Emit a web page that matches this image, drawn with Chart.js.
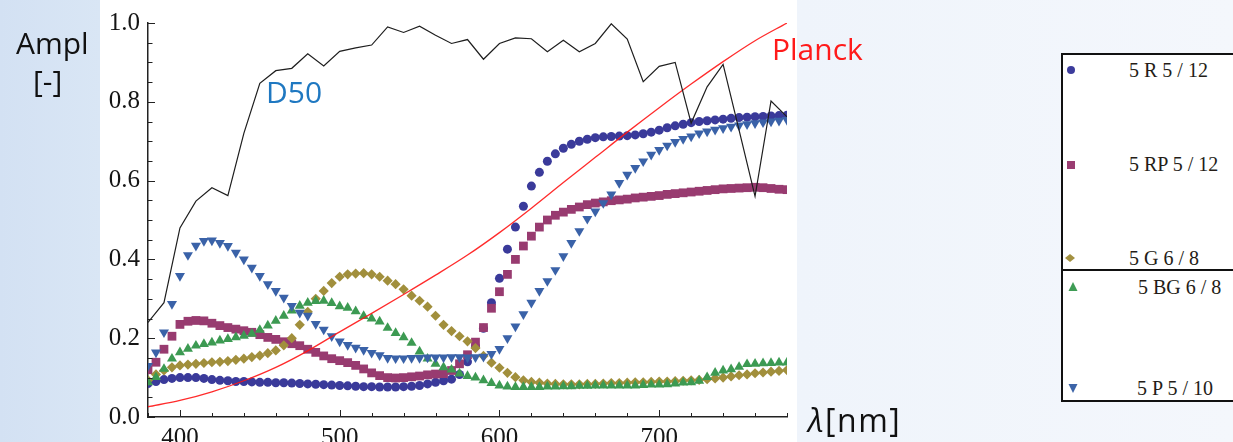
<!DOCTYPE html>
<html>
<head>
<meta charset="utf-8">
<script src="https://cdn.jsdelivr.net/npm/chart.js@4.4.1/dist/chart.umd.min.js"></script>
<style>
html,body{margin:0;padding:0;}
body{width:1233px;height:442px;overflow:hidden;position:relative;
  background:linear-gradient(to right,#d3e1f3 0px,#d9e6f5 100px,#eff4fb 800px,#f4f7fc 1233px);
  font-family:'Open Sans',sans-serif;}
#plotbg{position:absolute;left:100px;top:0;width:697px;height:442px;background:#ffffff;}
#c{position:absolute;left:0;top:0;}
.lbl{position:absolute;white-space:nowrap;line-height:1;font-family:'Open Sans',sans-serif;font-size:30px;}
.leg{position:absolute;white-space:nowrap;line-height:1;font-family:'Liberation Serif',serif;font-size:20px;color:#241c16;}
#legbox{position:absolute;left:1061px;top:53px;width:190px;height:345px;border:2px solid #111;background:#fff;}
#legdiv{position:absolute;left:1061px;top:269px;width:190px;height:2px;background:#111;}
svg.mk{position:absolute;overflow:visible;}
</style>
</head>
<body>
<div id="plotbg"></div>
<canvas id="c" width="1233" height="442"></canvas>

<div class="lbl" style="left:16px;top:28px;color:#111;">Ampl</div>
<div class="lbl" style="left:33px;top:66px;color:#111;">[-]</div>
<div class="lbl" style="left:808px;top:404px;color:#111;font-size:32px;letter-spacing:1.5px;"><i>λ</i>[nm]</div>
<div class="lbl" style="left:266px;top:77px;color:#1f78c1;">D50</div>
<div class="lbl" style="left:772px;top:34px;color:#ff1a1a;">Planck</div>

<div id="legbox"></div>
<div id="legdiv"></div>
<svg class="mk" style="left:1071px;top:70px" width="1" height="1"><circle cx="0" cy="0" r="4" fill="#3c3c9c"/></svg>
<svg class="mk" style="left:1071px;top:165px" width="1" height="1"><rect x="-4" y="-4" width="8" height="8" fill="#9a3d72"/></svg>
<svg class="mk" style="left:1070px;top:258px" width="1" height="1"><polygon points="-5,0 0,-4 5,0 0,4" fill="#a39140"/></svg>
<svg class="mk" style="left:1073px;top:287px" width="1" height="1"><polygon points="0,-5 4.5,4 -4.5,4" fill="#3f9c55"/></svg>
<svg class="mk" style="left:1073px;top:388px" width="1" height="1"><polygon points="0,5 4.5,-4 -4.5,-4" fill="#3c64a8"/></svg>
<div class="leg" style="left:1129px;top:60px;">5 R 5 / 12</div>
<div class="leg" style="left:1129px;top:154px;">5 RP 5 / 12</div>
<div class="leg" style="left:1129px;top:248px;">5 G 6 / 8</div>
<div class="leg" style="left:1138px;top:277px;">5 BG 6 / 8</div>
<div class="leg" style="left:1137px;top:378px;">5 P 5 / 10</div>

<script>
// ---- data ----
const wavelengths = [380,385,390,395,400,405,410,415,420,425,430,435,440,445,450,455,460,465,470,475,
  480,485,490,495,500,505,510,515,520,525,530,535,540,545,550,555,560,565,570,575,
  580,585,590,595,600,605,610,615,620,625,630,635,640,645,650,655,660,665,670,675,
  680,685,690,695,700,705,710,715,720,725,730,735,740,745,750,755,760,765,770,775,780];

const sample5R512 = [0.085,0.09,0.095,0.098,0.1,0.1,0.1,0.098,0.095,0.093,
  0.092,0.09,0.09,0.089,0.088,0.088,0.087,0.087,0.086,0.085,
  0.084,0.083,0.082,0.081,0.08,0.079,0.078,0.077,0.077,0.076,
  0.076,0.076,0.077,0.078,0.08,0.084,0.088,0.092,0.096,0.108,
  0.14,0.18,0.225,0.29,0.352,0.426,0.482,0.535,0.586,0.621,
  0.649,0.668,0.682,0.692,0.7,0.705,0.709,0.711,0.712,0.713,
  0.714,0.716,0.719,0.723,0.728,0.734,0.739,0.743,0.747,0.75,
  0.752,0.754,0.756,0.758,0.76,0.761,0.762,0.763,0.764,0.765,0.766];

const sample5RP512 = [0.12,0.139,0.172,0.205,0.235,0.243,0.245,0.244,0.238,0.232,
  0.227,0.223,0.219,0.215,0.209,0.202,0.197,0.191,0.186,0.181,
  0.172,0.164,0.155,0.148,0.143,0.138,0.131,0.122,0.112,0.105,
  0.1,0.099,0.1,0.102,0.104,0.107,0.109,0.11,0.118,0.135,
  0.158,0.19,0.227,0.276,0.318,0.362,0.4,0.434,0.459,0.482,
  0.5,0.512,0.52,0.527,0.533,0.539,0.543,0.546,0.549,0.551,
  0.553,0.556,0.558,0.56,0.562,0.565,0.567,0.569,0.571,0.573,
  0.575,0.577,0.579,0.58,0.581,0.582,0.583,0.582,0.58,0.578,0.577];

const sample5G68 = [0.093,0.108,0.118,0.126,0.131,0.133,0.135,0.137,0.139,0.14,
  0.142,0.145,0.148,0.152,0.156,0.162,0.169,0.182,0.2,0.234,
  0.267,0.3,0.32,0.34,0.356,0.362,0.364,0.365,0.362,0.356,
  0.346,0.337,0.324,0.308,0.295,0.28,0.257,0.234,0.218,0.205,
  0.192,0.175,0.155,0.138,0.125,0.112,0.101,0.093,0.089,0.087,
  0.085,0.084,0.083,0.083,0.083,0.084,0.084,0.085,0.086,0.086,
  0.087,0.088,0.088,0.089,0.09,0.09,0.091,0.092,0.093,0.094,
  0.096,0.098,0.1,0.103,0.106,0.108,0.111,0.113,0.115,0.117,0.119];

const sample5BG68 = [0.088,0.101,0.122,0.148,0.164,0.173,0.181,0.185,0.189,0.194,
  0.198,0.202,0.206,0.211,0.221,0.232,0.244,0.257,0.27,0.282,
  0.29,0.294,0.295,0.289,0.281,0.277,0.268,0.256,0.25,0.242,
  0.226,0.213,0.202,0.188,0.166,0.148,0.135,0.126,0.12,0.11,
  0.104,0.1,0.093,0.086,0.08,0.077,0.076,0.076,0.076,0.076,
  0.077,0.077,0.078,0.078,0.079,0.079,0.08,0.08,0.08,0.08,
  0.08,0.08,0.081,0.082,0.082,0.083,0.085,0.087,0.088,0.092,
  0.101,0.112,0.118,0.121,0.127,0.134,0.135,0.136,0.137,0.138,0.138];

const sample5P510 = [0.13,0.164,0.215,0.287,0.358,0.411,0.435,0.447,0.448,0.442,
  0.434,0.417,0.4,0.379,0.358,0.337,0.32,0.303,0.282,0.265,
  0.257,0.236,0.222,0.205,0.192,0.183,0.176,0.17,0.163,0.157,
  0.15,0.149,0.149,0.15,0.15,0.151,0.151,0.151,0.152,0.152,
  0.151,0.152,0.153,0.16,0.173,0.2,0.23,0.261,0.29,0.32,
  0.345,0.373,0.408,0.442,0.472,0.503,0.522,0.543,0.565,0.594,
  0.615,0.632,0.649,0.666,0.678,0.689,0.698,0.706,0.712,0.72,
  0.725,0.729,0.733,0.737,0.74,0.743,0.746,0.748,0.75,0.752,0.754];

const d50Wavelengths = [380,390,400,410,420,430,440,450,460,470,480,490,500,510,520,530,540,550,560,570,
  580,590,600,610,620,630,640,650,660,670,680,690,700,710,720,730,740,750,760,770,780];
const d50Values = [0.24,0.29,0.48,0.548,0.582,0.562,0.72,0.847,0.879,0.885,0.922,0.891,0.928,0.937,0.944,0.99,0.976,0.992,0.969,0.948,
  0.958,0.908,0.948,0.962,0.96,0.927,0.956,0.927,0.948,0.998,0.959,0.851,0.89,0.9,0.746,0.838,0.895,0.728,0.56,0.802,0.762];

const planckWavelengths = [380,400,420,440,460,480,500,520,540,560,580,600,620,640,660,680,700,720,740,760,780];
const planckValues = [0.026,0.042,0.064,0.092,0.126,0.168,0.216,0.263,0.311,0.36,0.411,0.468,0.53,0.595,0.659,0.723,0.785,0.845,0.902,0.955,1.0];

const xTickLabels = [400,500,600,700];
const yTickLabels = ['0.0','0.2','0.4','0.6','0.8','1.0'];

// ---- chart ----
const pts = (xs, ys) => xs.map((x, i) => ({x: x, y: ys[i]}));
const scatterSet = (label, ys, color, style, r, rot, order) => ({
  label, data: pts(wavelengths, ys), showLine: false,
  pointStyle: style, pointRadius: r, pointRotation: rot || 0,
  pointBackgroundColor: color, pointBorderWidth: 0, backgroundColor: color, borderColor: color,
  order
});

const insideTicks = {
  id: 'insideTicks',
  afterDraw(chart) {
    const {ctx, chartArea: a, scales: {x, y}} = chart;
    ctx.save();
    ctx.strokeStyle = '#222';
    ctx.lineWidth = 1;
    x.ticks.forEach(t => {
      const px = Math.round(x.getPixelForValue(t.value)) + 0.5;
      const major = xTickLabels.includes(Math.round(t.value));
      ctx.beginPath();
      ctx.moveTo(px, a.bottom);
      ctx.lineTo(px, a.bottom - (major ? 7 : 4));
      ctx.stroke();
    });
    y.ticks.forEach(t => {
      const py = Math.round(y.getPixelForValue(t.value)) + 0.5;
      const major = Math.round(t.value * 100) % 20 === 0;
      ctx.beginPath();
      ctx.moveTo(a.left, py);
      ctx.lineTo(a.left + (major ? 7 : 4.5), py);
      ctx.stroke();
    });
    ctx.restore();
  }
};

new Chart(document.getElementById('c'), {
  type: 'scatter',
  data: {
    datasets: [
      {label: 'D50', data: pts(d50Wavelengths, d50Values), showLine: true, borderColor: '#1e1e1e', borderWidth: 1.2,
       pointRadius: 0, tension: 0, fill: false, order: 0},
      {label: 'Planck', data: pts(planckWavelengths, planckValues), showLine: true, borderColor: 'rgba(255,20,20,0.9)', borderWidth: 1.3,
       pointRadius: 0, cubicInterpolationMode: 'monotone', fill: false, order: 1},
      scatterSet('5 P 5 / 10', sample5P510, '#3a62a8', 'triangle', 5.8, 180, 2),
      scatterSet('5 BG 6 / 8', sample5BG68, '#3c9a52', 'triangle', 5.8, 0, 3),
      scatterSet('5 G 6 / 8', sample5G68, '#a18f3c', 'rectRot', 5.1, 0, 4),
      scatterSet('5 RP 5 / 12', sample5RP512, '#983b70', 'rect', 6.2, 0, 5),
      scatterSet('5 R 5 / 12', sample5R512, '#3a3a9a', 'circle', 4.5, 0, 6)
    ]
  },
  options: {
    responsive: false,
    animation: false,
    devicePixelRatio: 1,
    layout: {padding: {left: 0, top: 21, right: 446, bottom: 0}},
    plugins: {legend: {display: false}, tooltip: {enabled: false}},
    scales: {
      x: {
        type: 'linear', min: 380, max: 780,
        grid: {display: true, drawOnChartArea: false, drawTicks: false},
        border: {display: true, color: '#222', width: 1.5},
        ticks: {
          stepSize: 20, autoSkip: false, maxRotation: 0, padding: 6, color: '#151515',
          font: {family: 'Liberation Serif', size: 25},
          callback: v => xTickLabels.includes(Math.round(v)) && Math.abs(v - Math.round(v)) < 1e-6 ? String(Math.round(v)) : ''
        },
        afterFit: s => { s.height = 25; }
      },
      y: {
        type: 'linear', min: 0, max: 1,
        grid: {display: true, drawOnChartArea: false, drawTicks: false},
        border: {display: true, color: '#222', width: 1.5},
        ticks: {
          stepSize: 0.05, autoSkip: false, padding: 8, color: '#151515',
          font: {family: 'Liberation Serif', size: 25},
          callback: v => { const k = Math.round(v * 100); return k % 20 === 0 ? yTickLabels[k / 20] : ''; }
        },
        afterFit: s => { s.width = 148; }
      }
    }
  },
  plugins: [insideTicks]
});
</script>
</body>
</html>
